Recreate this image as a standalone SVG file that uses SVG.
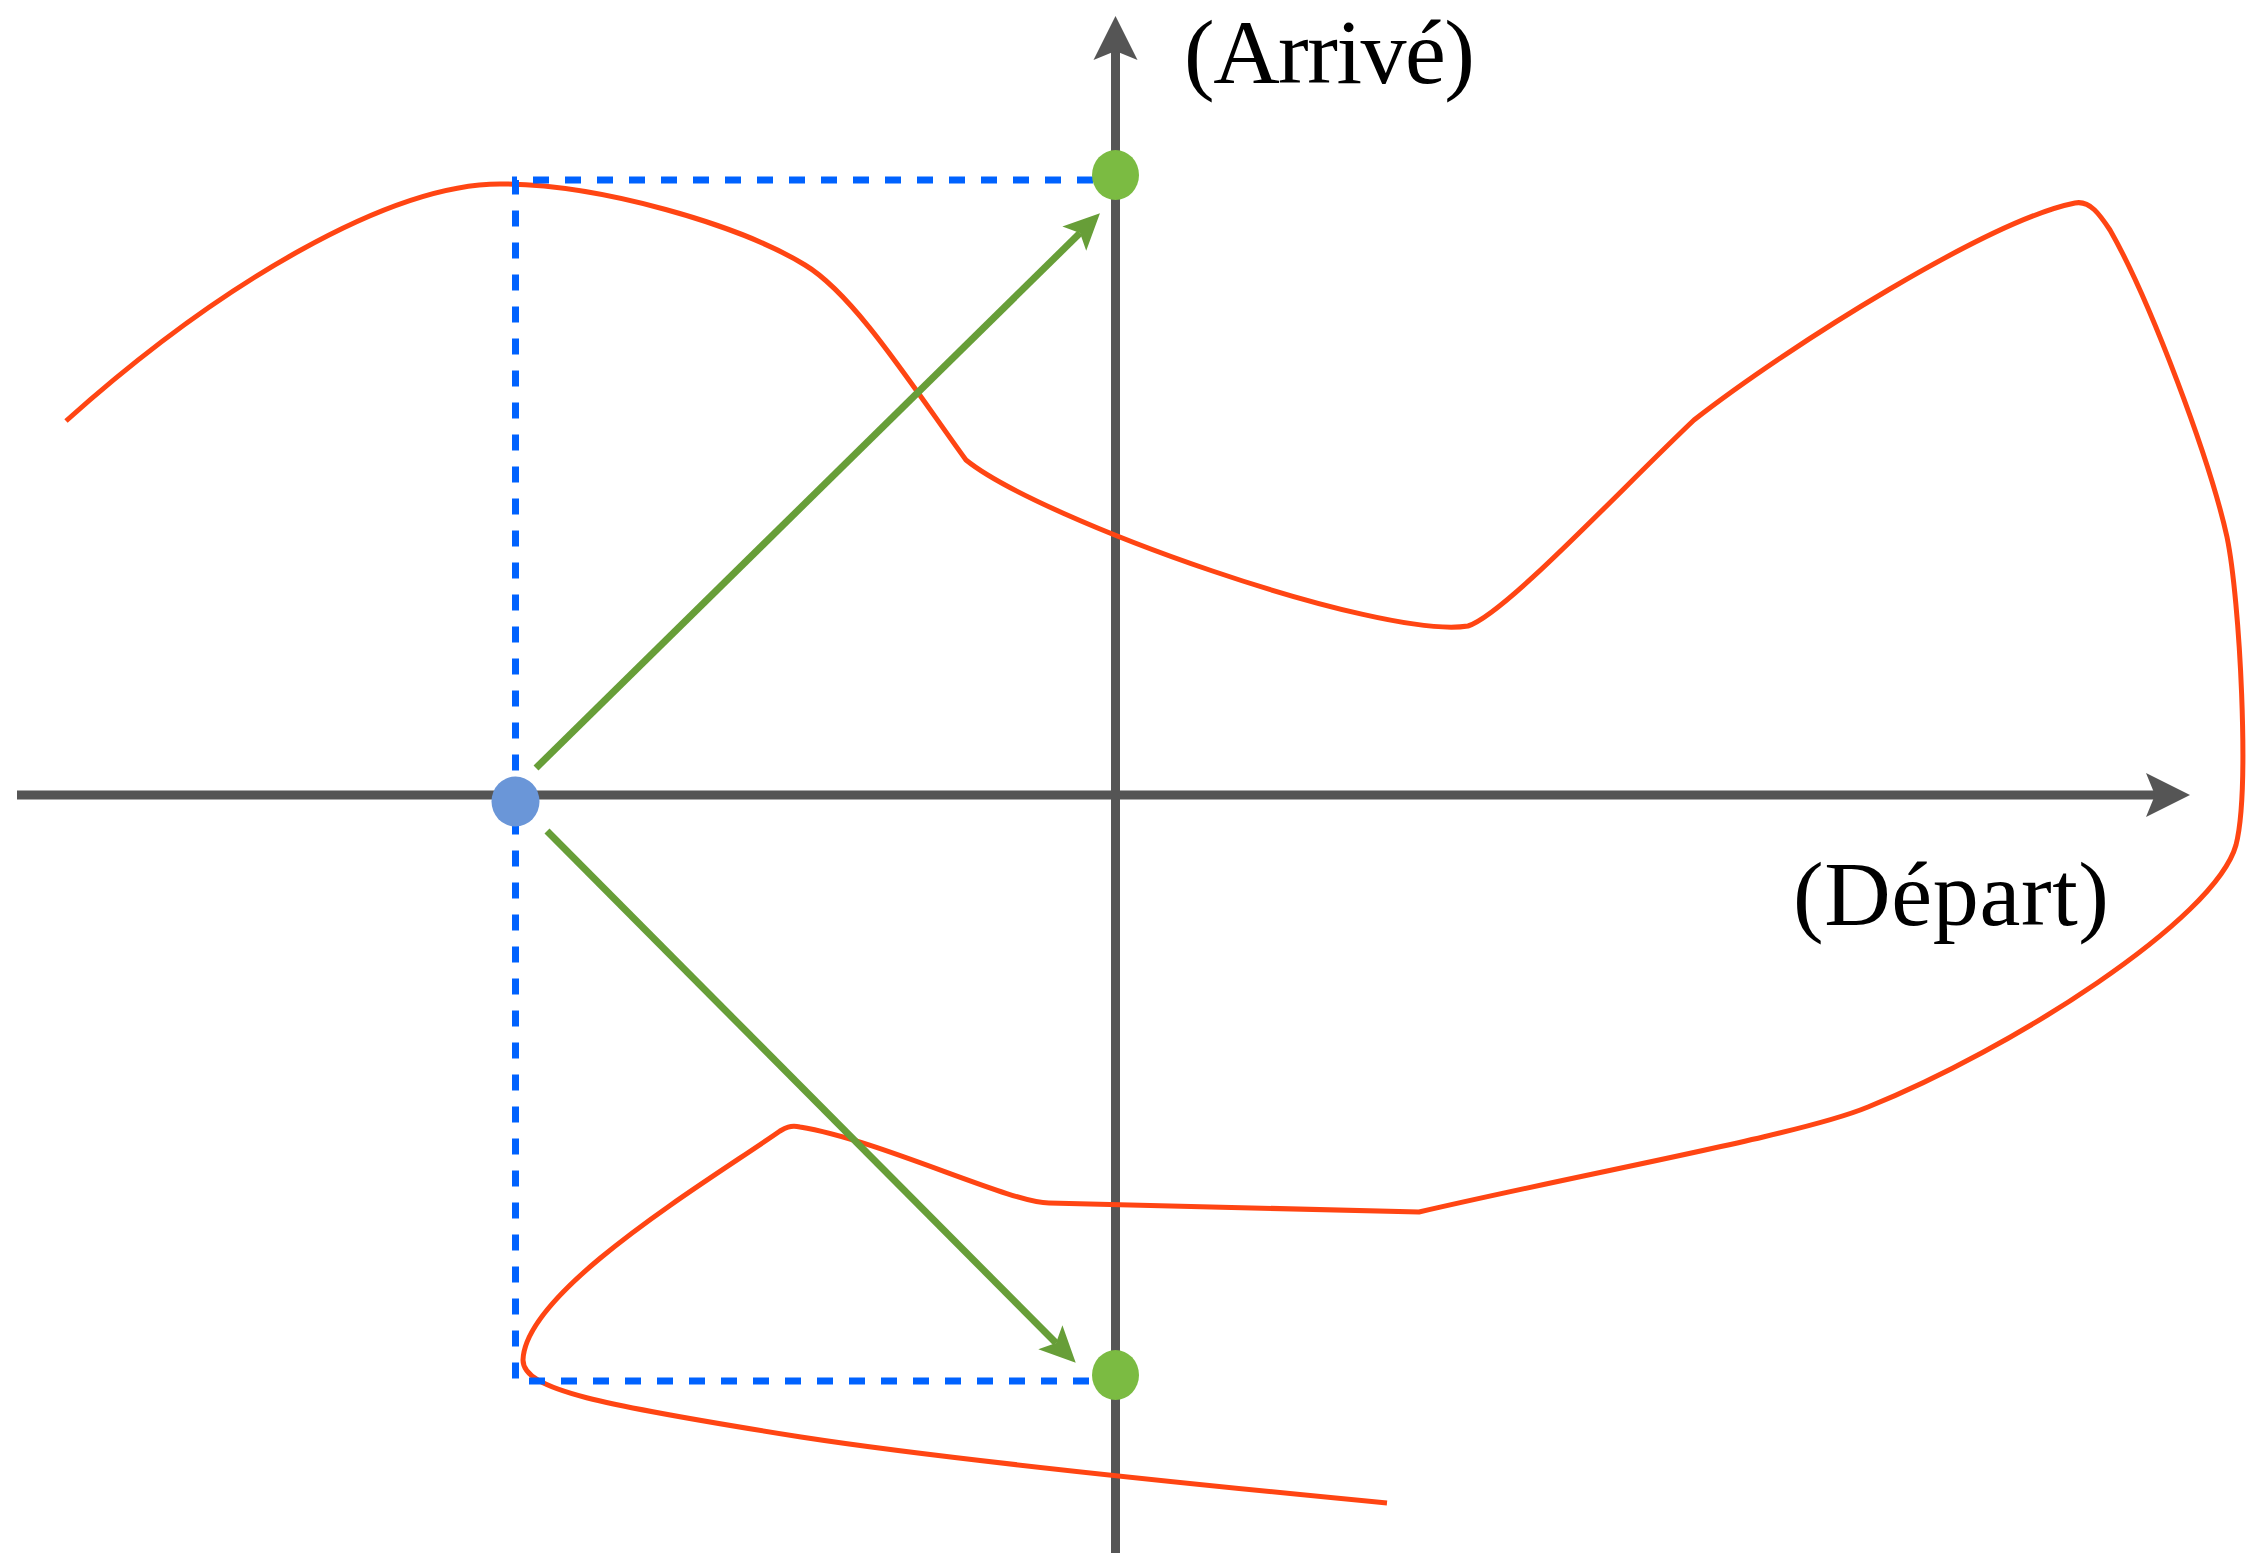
<svg xmlns="http://www.w3.org/2000/svg" width="2253" height="1553" viewBox="0 0 2253 1553">
  <style>
    .axis { stroke: #555555; stroke-width: 9; fill: none; }
    .curve { stroke: #FF4513; stroke-width: 5; fill: none; stroke-linejoin: round; }
    .guide { stroke: #0062FF; stroke-width: 7; fill: none; stroke-dasharray: 16 16; }
    .arrow { stroke: #679E38; stroke-width: 7; fill: none; }
    .green { fill: #7BBB42; }
    .blue { fill: #6A96D8; }
    .label { font-family: "Liberation Serif", "DejaVu Serif", serif; font-size: 92px; fill: #000000; }
  </style>
  <defs>
    <marker id="axisHead" markerUnits="userSpaceOnUse" orient="auto" refX="9" refY="0" markerWidth="50" markerHeight="50" overflow="visible">
      <path d="M0,-22 L44,0 L0,22 L9,0 Z" fill="#555555"/>
    </marker>
    <marker id="greenHead" markerUnits="userSpaceOnUse" orient="auto" refX="8" refY="0" markerWidth="40" markerHeight="40" overflow="visible">
      <path d="M0,-17 L36,0 L0,17 L8,0 Z" fill="#679E38"/>
    </marker>
  </defs>
  <rect width="2253" height="1553" fill="#FFFFFF"/>

  <g id="axes">
    <line class="axis" x1="17" y1="795" x2="2155" y2="795" marker-end="url(#axisHead)"/>
    <line class="axis" x1="1115.5" y1="1553" x2="1115.5" y2="51" marker-end="url(#axisHead)"/>
  </g>

  <g id="curve">
    <path class="curve" d="M66,421 C220,283 390,184 500,184 C600,184 740,225 805,265 C855,295 915,390 966,460 C1040,520 1380,640 1468,626 C1505,614 1620,490 1694,420 C1790,345 1990,220 2075,203 C2090,200 2100,215 2110,230 C2150,300 2210,460 2227,537 C2240,600 2250,790 2236,845 C2215,920 2010,1050 1868,1107 C1800,1135 1600,1170 1419,1212 L1049,1203 C1010,1203 880,1140 800,1127 C790,1125 785,1128 780,1131 C710,1180 525,1290 523,1360 C523,1390 600,1405 801,1437 C950,1460 1200,1485 1387,1503"/>
  </g>

  <g id="guides">
    <path class="guide" d="M1093,180 H515.5 V1381 H1093"/>
  </g>

  <g id="connectors">
    <line class="arrow" x1="536" y1="768" x2="1080" y2="233" marker-end="url(#greenHead)"/>
    <line class="arrow" x1="547" y1="831" x2="1056" y2="1343" marker-end="url(#greenHead)"/>
  </g>

  <g id="node-start">
    <ellipse class="blue" cx="515.5" cy="801.5" rx="24" ry="25"/>
  </g>
  <g id="node-image-top">
    <ellipse class="green" cx="1115.5" cy="175" rx="23.5" ry="25"/>
  </g>
  <g id="node-image-bottom">
    <ellipse class="green" cx="1115.5" cy="1375" rx="23.5" ry="25"/>
  </g>

  <g id="labels">
    <text class="label" x="1184" y="83" textLength="291">(Arrivé)</text>
    <text class="label" x="1793" y="925" textLength="316">(Départ)</text>
  </g>
</svg>
